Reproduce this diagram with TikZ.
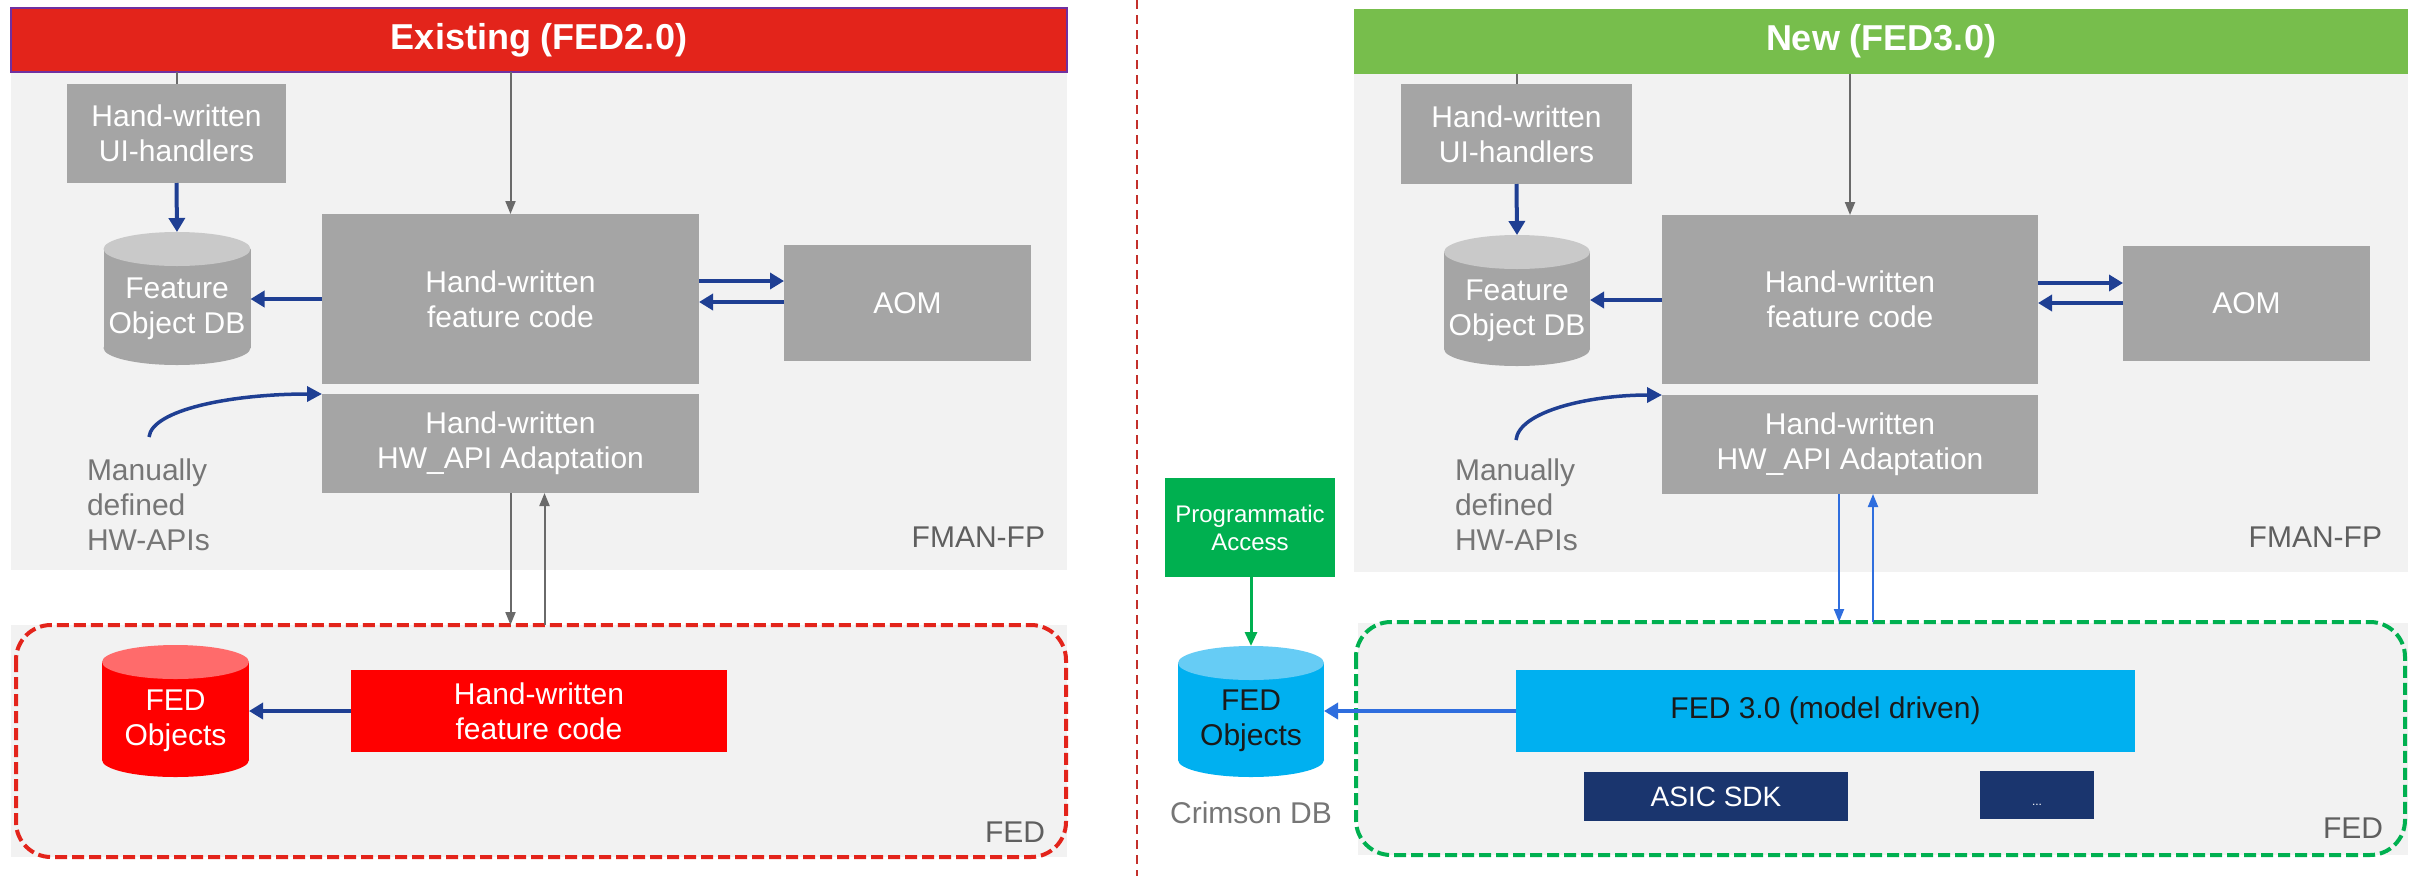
\documentclass[tikz,border=0pt]{standalone}
\usepackage{fontspec}
\setmainfont{Liberation Sans}
\usetikzlibrary{arrows.meta,calc}
\definecolor{panelbg}{HTML}{F2F2F2}
\definecolor{boxgray}{HTML}{A5A5A5}
\definecolor{cyltop}{HTML}{C9C9C9}
\definecolor{dblue}{HTML}{1F3F93}
\definecolor{agray}{HTML}{6A6A6A}
\definecolor{tgray}{HTML}{767676}
\definecolor{lgray}{HTML}{5F5F5F}
\definecolor{titlered}{HTML}{E3241B}
\definecolor{titleborder}{HTML}{7030A0}
\definecolor{titlegreen}{HTML}{77BE4C}
\definecolor{pgreen}{HTML}{00B050}
\definecolor{fedred}{HTML}{FF0000}
\definecolor{fedredtop}{HTML}{FF6B6B}
\definecolor{fcyan}{HTML}{00B0F0}
\definecolor{fcyantop}{HTML}{66CCF5}
\definecolor{lblue}{HTML}{2F6EDE}
\definecolor{navyb}{HTML}{1A356E}
\definecolor{divred}{HTML}{C4302B}
\definecolor{darktext}{HTML}{1A1A1A}
\newcommand\mycylinder[4]{%
  \fill[#2] ($(#1.north west)+(0,17)$) rectangle ($(#1.south east)+(0,-17)$);
  \fill[#2] ($(#1.south)+(0,-17)$) ellipse [x radius=#4pt, y radius=17pt];
  \fill[#3] ($(#1.north)+(0,17)$) ellipse [x radius=#4pt, y radius=17pt];}
\begin{document}
\begin{tikzpicture}[x=1pt,y=-1pt,
  every node/.style={inner sep=0pt, outer sep=0pt},
  sz/.style 2 args={minimum width=#1pt, minimum height=#2pt},
  txt/.style={font=\fontsize{30}{35}\selectfont, align=center},
  gbox/.style={txt, fill=boxgray, text=white},
  titlebox/.style={text=white, font=\bfseries\fontsize{36}{40}\selectfont},
  barrow/.style={draw=dblue, line width=4pt, -{Triangle[length=14pt,width=16pt]}},
  carrow/.style={draw=dblue, line width=3.5pt, -{Triangle[length=15pt,width=15pt]}},
  garrow/.style={draw=agray, line width=2pt, -{Triangle[length=13pt,width=10pt]}},
  lbarrow/.style={draw=lblue, line width=2pt, -{Triangle[length=13pt,width=10pt]}},
  lbthick/.style={draw=lblue, line width=4pt, -{Triangle[length=14pt,width=16pt]}},
  pgarrow/.style={draw=pgreen, line width=3pt, -{Triangle[length=14pt,width=12pt]}},
  fedframe/.style={line width=4pt, dash pattern=on 12pt off 5pt, rounded corners=35pt},
  lbl/.style={font=\fontsize{30}{35}\selectfont, text=lgray},
  note/.style={font=\fontsize{30}{35}\selectfont, text=tgray, align=left}]
\useasboundingbox (0,0) rectangle (2417,876);
\fill[white] (0,0) rectangle (2417,876);

% ================= LEFT (Existing) =================
\fill[panelbg] (11,72) rectangle (1067,570);
\fill[panelbg] (11,625) rectangle (1067,857);
\node[titlebox, fill=titlered, draw=titleborder, line width=2pt, sz={1056}{64}] (ttlL) at (539,40) {Existing (FED2.0)};

\node[gbox, sz={219}{99}] (uiL) at (176.5,133.5) {Hand-written\\UI-handlers};
\node[sz={147}{133}] (fdbL) at (177,298.5) {};
\mycylinder{fdbL}{boxgray}{cyltop}{73.5}
\node[txt, text=white] (fdbLt) at (177,309) {Feature\\Object DB};
\node[gbox, sz={377}{170}] (fcL) at (510.5,299) {Hand-written\\feature code};
\node[gbox, sz={247}{116}] (aomL) at (907.5,303) {AOM};
\node[gbox, sz={377}{99}] (hwL) at (510.5,443.5) {Hand-written\\HW\_API Adaptation};
\node[note, anchor=west] (manL) at (87,505) {Manually\\defined\\HW-APIs};
\node[lbl, anchor=east] (fmanL) at (1045,537) {FMAN-FP};

\draw[agray, line width=2pt] (uiL.north |- ttlL.south) -- (uiL.north);
\draw[garrow] (fcL.north |- ttlL.south) -- (fcL.north);
\draw[barrow] (uiL.south) -- (fdbL.north);
\draw[barrow] (fcL.west) -- (fcL.west -| fdbL.east);
\draw[barrow] ($(fcL.east)+(0,-18)$) -- ($(aomL.west)+(0,-22)$);
\draw[barrow] ($(aomL.west)+(0,-1)$) -- ($(fcL.east)+(0,3)$);
\coordinate (mstartL) at (149,437);
\draw[carrow] (mstartL) .. controls (152,410) and (230,394) .. (hwL.north west);

\node[sz={1050}{232}] (fedL) at (541,741) {};
\draw[fedframe, draw=titlered] (fedL.north west) rectangle (fedL.south east);
\node[sz={147}{132}] (rcyl) at (175.5,711) {};
\mycylinder{rcyl}{fedred}{fedredtop}{73.5}
\node[txt, text=white] (rcylt) at (175.5,721) {FED\\Objects};
\node[txt, fill=fedred, text=white, sz={376}{82}] (rfc) at (539,711) {Hand-written\\feature code};
\draw[barrow] (rfc.west) -- (rfc.west -| rcyl.east);
\node[lbl, anchor=east] (fedLl) at (1045,832) {FED};

\draw[garrow] (hwL.south) -- (hwL.south |- fedL.north);
\draw[garrow] ($(fedL.north -| hwL.south)+(34,0)$) -- ($(hwL.south)+(34,0)$);

% ================= DIVIDER =================
\coordinate (divtop) at (1137,0);
\coordinate (divbot) at (1137,876);
\draw[divred, line width=1.5pt, dash pattern=on 9pt off 6pt] (divtop) -- (divbot);

% ================= RIGHT (New) =================
\fill[panelbg] (1354,73) rectangle (2408,572);
\fill[panelbg] (1358,623) rectangle (2408,855);
\node[titlebox, fill=titlegreen, sz={1054}{65}] (ttlR) at (1881,41) {New (FED3.0)};

\node[gbox, sz={231}{100}] (uiR) at (1516.5,134) {Hand-written\\UI-handlers};
\node[sz={146}{131}] (fdbR) at (1517,300.5) {};
\mycylinder{fdbR}{boxgray}{cyltop}{73}
\node[txt, text=white] (fdbRt) at (1517,311) {Feature\\Object DB};
\node[gbox, sz={376}{169}] (fcR) at (1850,299.5) {Hand-written\\feature code};
\node[gbox, sz={247}{115}] (aomR) at (2246.5,303.5) {AOM};
\node[gbox, sz={376}{99}] (hwR) at (1850,444.5) {Hand-written\\HW\_API Adaptation};
\node[note, anchor=west] (manR) at (1455,505) {Manually\\defined\\HW-APIs};
\node[lbl, anchor=east] (fmanR) at (2382,537) {FMAN-FP};

\draw[agray, line width=2pt] (uiR.north |- ttlR.south) -- (uiR.north);
\draw[garrow] (fcR.north |- ttlR.south) -- (fcR.north);
\draw[barrow] (uiR.south) -- (fdbR.north);
\draw[barrow] ($(fcR.west)+(0,0.5)$) -- ($(fcR.west -| fdbR.east)+(0,0.5)$);
\draw[barrow] ($(fcR.east)+(0,-16.5)$) -- ($(aomR.west)+(0,-20.5)$);
\draw[barrow] ($(aomR.west)+(0,-0.5)$) -- ($(fcR.east)+(0,3.5)$);
\coordinate (mstartR) at (1516,440);
\draw[carrow] (mstartR) .. controls (1519,411) and (1590,395) .. (hwR.north west);

\node[txt, font=\fontsize{24}{28}\selectfont, fill=pgreen, text=white, sz={170}{99}] (prog) at (1250,527.5) {Programmatic\\Access};
\node[sz={146}{131}] (bcyl) at (1251,711.5) {};
\mycylinder{bcyl}{fcyan}{fcyantop}{73}
\node[txt, text=darktext] (bcylt) at (1251,721) {FED\\Objects};
\node[note, align=center] (crim) at (1251,813) {Crimson DB};
\draw[pgarrow] (bcyl.north |- prog.south) -- (bcyl.north);

\node[sz={1049}{233}] (fedR) at (1880.5,738.5) {};
\draw[fedframe, draw=pgreen] (fedR.north west) rectangle (fedR.south east);
\node[txt, fill=fcyan, text=darktext, sz={619}{82}] (fed3) at (1825.5,711) {FED 3.0 (model driven)};
\draw[lbthick] (fed3.west) -- (fed3.west -| bcyl.east);
\node[txt, font=\fontsize{28}{32}\selectfont, fill=navyb, text=white, sz={264}{49}] (asic) at (1716,796.5) {ASIC SDK};
\node[fill=navyb, sz={114}{48}] (more) at (2037,795) {};
\node[font=\fontsize{12}{14}\selectfont, text=white] (moret) at (2037,805) {...};
\node[lbl, anchor=east] (fedRl) at (2383,828) {FED};

\draw[lbarrow] ($(hwR.south)+(-11,0)$) -- ($(hwR.south |- fedR.north)+(-11,0)$);
\draw[lbarrow] ($(fedR.north -| hwR.south)+(23,0)$) -- ($(hwR.south)+(23,0)$);
\end{tikzpicture}
\end{document}
